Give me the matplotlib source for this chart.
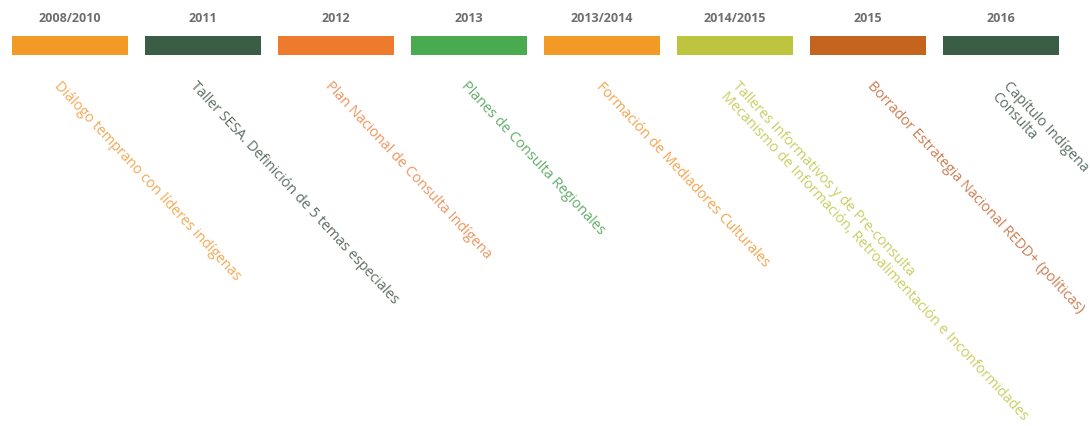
import matplotlib
matplotlib.use("Agg")
import matplotlib.pyplot as plt

# ── Data ─────────────────────────────────────────────────────
years = ["2008/2010", "2011", "2012", "2013", "2013/2014", "2014/2015", "2015", "2016"]
events = [
    "Diálogo temprano con líderes indígenas",
    "Taller SESA. Definición de 5 temas especiales",
    "Plan Nacional de Consulta Indígena",
    "Planes de Consulta Regionales",
    "Formación de Mediadores Culturales",
    "Talleres Informativos y de Pre-consulta\nMecanismo de Información, Retroalimentación e Inconformidades",
    "Borrador Estrategia Nacional REDD+ (políticas)",
    "Capítulo Indígena\nConsulta",
]
bar_colors = ["#F39A26", "#3A5E45", "#EE7A2E", "#4AAA50",
              "#F39A26", "#BDC43E", "#C4641F", "#3A5E45"]
text_colors = ["#F2AA55", "#5E6E64", "#EC955F", "#62AE68",
               "#F2A550", "#C9CE62", "#CC7D52", "#5E6E64"]

plt.rcParams["font.family"] = ["Open Sans", "DejaVu Sans"]

fig = plt.figure(figsize=(10.91, 4.27), dpi=100)
ax = fig.add_axes([0, 0, 1, 1])

px = 133.0  # pixels per slot
ax.set_xlim(-70 / px, (1091 - 70) / px)
ax.set_ylim(427, 0)
ax.axis("off")

xs = list(range(len(years)))
ax.bar(xs, [19] * len(xs), bottom=37, width=116 / px, color=bar_colors,
       align="center", linewidth=0)

for i, (yr, ev, tc) in enumerate(zip(years, events, text_colors)):
    ax.text(i, 18, yr, ha="center", va="center", fontsize=9,
            fontweight="bold", color="#6E6E6E")
    x_txt = i + (i * 2.5 - 8) / px
    ax.text(x_txt, 79, ev, rotation=-47, rotation_mode="anchor",
            ha="left", va="top", fontsize=10.4, color=tc, linespacing=1.05)

fig.savefig("out.png", dpi=100)
